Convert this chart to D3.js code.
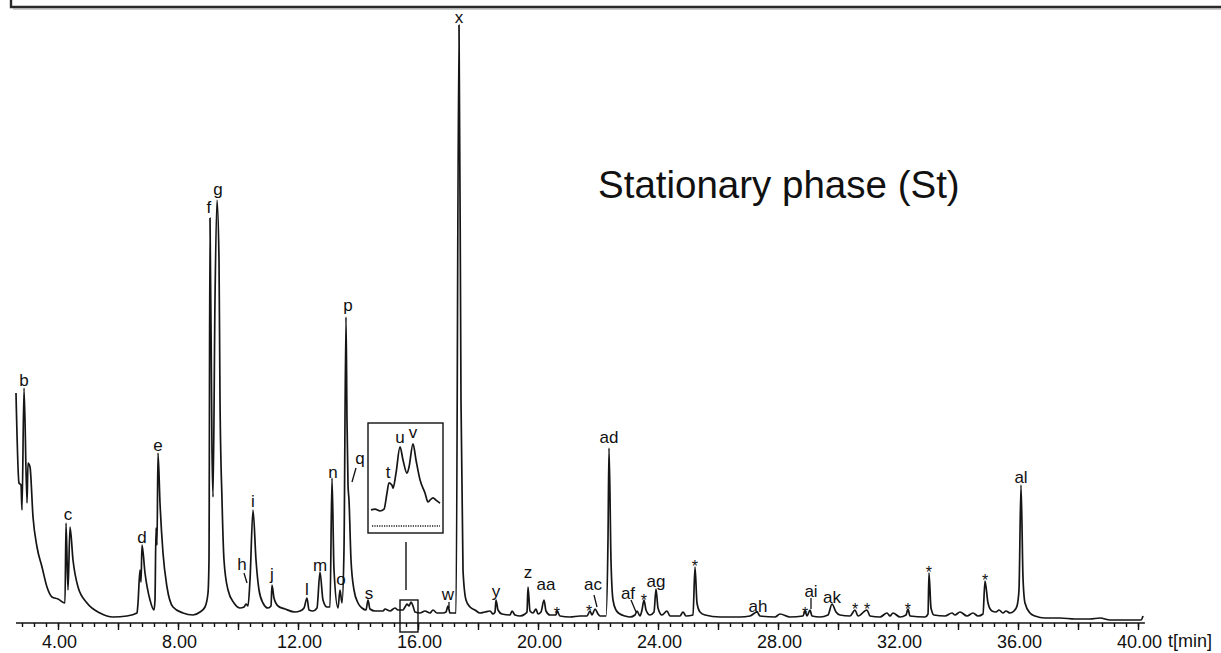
<!doctype html>
<html>
<head>
  <meta charset="utf-8">
  <title>Stationary phase (St)</title>
  <style>
  body{ margin:0; background:#fff; font-family:"Liberation Sans", Arial, sans-serif; }
  svg{ display:block; }
  .trace{ fill:none; stroke:#151515; stroke-width:1.7; stroke-linejoin:round; }
  .lbl{ font-size:17px; fill:#111; text-anchor:middle; }
  .star{ font-size:16px; fill:#111; text-anchor:middle; }
  .axis text{ font-size:18px; fill:#111; font-family:"Liberation Sans", Arial, sans-serif; }
  .axis line, .axis path{ stroke:#111; stroke-width:1.4; }
  </style>
</head>
<body>
<svg></svg>
<script src="https://d3js.org/d3.v7.min.js"></script>
<script>
var width = 1221, height = 653;

// retention time (min) and detector signal (arb. units)
var times = [2.600,2.700,2.767,2.800,2.867,2.967,3.000,3.067,3.167,3.300,3.467,3.633,3.800,4.000,4.233,4.267,4.333,4.400,4.500,4.667,4.967,5.400,5.833,6.300,6.633,6.667,6.733,6.767,6.800,6.900,7.067,7.200,7.233,7.267,7.300,7.333,7.400,7.500,7.633,7.833,8.167,8.500,8.733,8.900,9.000,9.033,9.067,9.133,9.167,9.233,9.300,9.367,9.400,9.467,9.533,9.667,9.867,10.067,10.200,10.267,10.333,10.400,10.500,10.600,10.700,10.833,11.000,11.100,11.133,11.200,11.333,11.567,11.900,12.067,12.200,12.300,12.367,12.500,12.633,12.733,12.833,12.967,13.067,13.133,13.200,13.333,13.400,13.467,13.533,13.600,13.633,13.667,13.700,13.767,13.867,14.000,14.133,14.267,14.333,14.400,14.567,14.833,14.900,15.067,15.233,15.333,15.500,15.567,15.633,15.700,15.767,15.833,15.900,16.067,16.233,16.400,16.500,16.633,16.833,16.933,17.000,17.067,17.267,17.367,17.433,17.500,17.600,17.733,17.900,18.067,18.233,18.400,18.500,18.567,18.600,18.667,18.800,19.067,19.133,19.233,19.400,19.567,19.633,19.667,19.733,19.833,19.933,20.000,20.100,20.200,20.267,20.400,20.600,20.633,20.733,21.067,21.400,21.633,21.733,21.800,21.900,22.000,22.067,22.267,22.333,22.367,22.433,22.500,22.600,22.733,22.900,23.067,23.233,23.300,23.400,23.467,23.533,23.600,23.733,23.867,23.933,24.000,24.133,24.300,24.400,24.733,24.833,24.933,25.167,25.233,25.300,25.400,25.567,26.067,26.733,27.067,27.300,27.400,27.900,28.067,28.400,28.833,28.900,28.967,29.067,29.133,29.400,29.667,29.800,29.933,30.067,30.400,30.567,30.667,30.967,31.067,31.400,31.633,31.733,31.833,32.067,32.267,32.333,32.400,32.900,33.000,33.033,33.100,33.200,33.567,33.800,33.900,34.067,34.300,34.500,34.667,34.833,34.900,35.000,35.133,35.267,35.367,35.500,35.600,35.733,35.867,35.967,36.033,36.100,36.167,36.233,36.400,36.567,36.900,37.400,37.900,38.400,38.733,39.067,39.567,40.100,40.167];
var signal = [224,134,132,107,229,114,154,150,100,70,50,30,20,18,14,94,27,90,57,30,14,4,0,1,4,14,47,35,72,44,17,7,17,89,72,164,114,64,30,10,4,2,5,10,24,57,399,167,120,317,417,357,217,117,57,27,14,9,10,13,11,37,107,57,27,14,9,11,32,19,11,8,5,6,9,19,7,6,9,45,17,10,10,139,47,9,27,14,67,300,197,132,117,57,27,14,9,7,17,8,6,6,8,6,9,7,7,10,13,11,15,11,5,4,6,4,7,4,4,5,11,4,4,592,217,47,17,10,7,4,5,6,3,5,17,7,3,2,6,2,1,3,5,30,6,4,8,3,5,17,6,2,2,6,1,0,1,1,6,2,8,3,1,1,77,169,57,17,7,3,1,0,2,6,1,7,17,7,2,5,28,9,2,6,1,1,5,1,2,50,14,5,2,0,0,1,5,1,0,3,0,1,6,1,7,1,0,2,13,5,2,1,7,1,7,1,0,4,1,4,0,2,8,1,0,3,44,9,2,1,4,2,5,1,4,1,3,36,14,6,5,7,4,6,4,6,11,27,132,39,14,4,1,-1,-1,-2,-2,-1,-3,-3,-3,1];

// magnified view of t, u, v
var insetTimes = [15.424,15.456,15.496,15.528,15.552,15.568,15.592,15.600,15.624,15.656,15.680,15.712,15.728,15.760,15.784,15.816,15.856,15.880,15.896,15.920,15.944,15.976];
var insetSignal = [2.7,2.8,2.5,2.8,5.5,7.2,6.8,6.3,8.8,13.2,11.0,8.8,9.8,13.7,11.0,7.7,5.5,4.0,4.3,4.7,4.3,3.8];
var insetNames = ['t', 'u', 'v'];
var insetLabelTimes = [15.56, 15.656, 15.76];
var insetLabelLevels = [8.0, 13.8, 14.7];

// peak labels: name, time, baseline level of the text
var peakNames = ['b','c','d','e','f','g','h','i','j','l','m','n','o','p','q','s','w','x','y','z','aa','ac','ad','af','ag','ah','ai','ak','al'];
var peakLabelTimes = [2.867,4.333,6.800,7.333,9.033,9.333,10.133,10.500,11.133,12.300,12.733,13.167,13.433,13.667,14.067,14.367,17.000,17.367,18.600,19.667,20.267,21.833,22.367,23.000,23.933,27.333,29.100,29.800,36.100];
var peakLabelLevels = [231,97,74,166,404,422,47,110,37,22,46,139,32,306,153,18,17,594,20,39,27,27,174,18,30,5,20,14,134];

// leader lines [t1, v1, t2, v2]
var leaders = [
  [10.200, 44, 10.300, 34],
  [13.933, 149, 13.800, 135],
  [17.033, 15, 17.033, 9],
  [21.867, 22, 21.967, 10],
  [23.100, 17, 23.267, 5],
  [29.100, 19, 29.100, 8]
];

var starTimes = [20.633,21.700,23.533,25.233,28.900,30.567,30.967,32.333,33.033,34.900];
var starLevels = [7,9,20,54,7,11,11,11,48,40];

var minorTicks = d3.range(28, 401, 4).map(function(d){ return d / 10; });
var labelTicks = [4, 8, 12, 16, 20, 24, 28, 32, 36, 40];

var svg = d3.select('svg').attr('width', width).attr('height', height);

var x = d3.scaleLinear().domain([4, 40]).range([58, 1138]);
var y = d3.scaleLinear().domain([0, 600]).range([617, 17]);

// frame edge at the top
svg.append('path')
  .attr('d', 'M11,-4 V7 H1225')
  .attr('fill', 'none').attr('stroke', '#2a2a2a').attr('stroke-width', 2.4);
svg.append('path')
  .attr('d', 'M13,9 H1225')
  .attr('fill', 'none').attr('stroke', '#999').attr('stroke-width', 1);

// axis
var axisY = 623;
var ag = svg.append('g').attr('class', 'axis').attr('transform', 'translate(0,' + axisY + ')');
ag.append('line').attr('x1', x(2.6)).attr('x2', x(40.23)).attr('y1', 0).attr('y2', 0);
ag.append('g').call(d3.axisBottom(x).tickValues(minorTicks)
    .tickSize(4).tickFormat(''))
  .call(function(g){ g.select('.domain').remove(); });
ag.append('g').call(d3.axisBottom(x).tickValues(minorTicks.filter(function(d){ return Math.abs(d/2 - Math.round(d/2)) < 1e-6; }))
    .tickSize(7).tickFormat(''))
  .call(function(g){ g.select('.domain').remove(); });
ag.append('g').call(d3.axisBottom(x).tickValues(labelTicks)
    .tickSize(0).tickPadding(12).tickFormat(function(d){ return d.toFixed(2); }))
  .call(function(g){ g.select('.domain').remove(); g.selectAll('text').attr('dx', 1); });
ag.append('text').attr('x', 1168).attr('y', 24).text('t[min]');

// trace
var pts = times.map(function(t, i){ return [t, signal[i]]; });
var line = d3.line()
  .x(function(d){ return x(d[0]); })
  .y(function(d){ return y(d[1]); })
  .curve(d3.curveMonotoneX);
svg.append('path').datum(pts).attr('class', 'trace').attr('d', line);

// labels
svg.selectAll('.lbl.peak').data(peakNames).enter().append('text')
  .attr('class', 'lbl peak')
  .attr('x', function(d, i){ return x(peakLabelTimes[i]); })
  .attr('y', function(d, i){ return y(peakLabelLevels[i]); })
  .text(function(d){ return d; });

svg.selectAll('.leader').data(leaders).enter().append('line')
  .attr('class', 'leader')
  .attr('x1', function(d){ return x(d[0]); })
  .attr('y1', function(d){ return y(d[1]); })
  .attr('x2', function(d){ return x(d[2]); })
  .attr('y2', function(d){ return y(d[3]); })
  .attr('stroke', '#111').attr('stroke-width', 1.3);

svg.selectAll('.star').data(starTimes).enter().append('text')
  .attr('class', 'star')
  .attr('x', function(d){ return x(d); })
  .attr('y', function(d, i){ return y(starLevels[i]) + 9; })
  .text('*');

// zoom box on the main trace and the inset
svg.append('rect')
  .attr('x', x(15.4)).attr('y', 600)
  .attr('width', x(16.0) - x(15.4)).attr('height', 32)
  .attr('fill', 'none').attr('stroke', '#111').attr('stroke-width', 1.4);
svg.append('line')
  .attr('x1', x(15.6)).attr('x2', x(15.6)).attr('y1', 542).attr('y2', 590)
  .attr('stroke', '#111').attr('stroke-width', 1.4);

var ix = d3.scaleLinear().domain([15.4, 16.0]).range([368, 443]);
var iy = d3.scaleLinear().domain([0, 16]).range([526, 430]);
svg.append('rect')
  .attr('x', 368).attr('y', 423).attr('width', 75).attr('height', 110)
  .attr('fill', '#fff').attr('stroke', '#111').attr('stroke-width', 1.4);
svg.append('line')
  .attr('x1', 372).attr('x2', 440).attr('y1', 526).attr('y2', 526)
  .attr('stroke', '#555').attr('stroke-width', 2).attr('stroke-dasharray', '1.2,1.2');
var ipts = insetTimes.map(function(t, i){ return [t, insetSignal[i]]; });
svg.append('path').datum(ipts).attr('class', 'trace')
  .attr('d', d3.line().x(function(d){ return ix(d[0]); }).y(function(d){ return iy(d[1]); }).curve(d3.curveMonotoneX));
svg.selectAll('.lbl.inset').data(insetNames).enter().append('text')
  .attr('class', 'lbl inset')
  .attr('x', function(d, i){ return ix(insetLabelTimes[i]); })
  .attr('y', function(d, i){ return iy(insetLabelLevels[i]); })
  .text(function(d){ return d; });

svg.append('text')
  .attr('x', 598).attr('y', 198)
  .attr('font-size', 38.5).attr('fill', '#111')
  .text('Stationary phase (St)');
</script>
</body>
</html>
